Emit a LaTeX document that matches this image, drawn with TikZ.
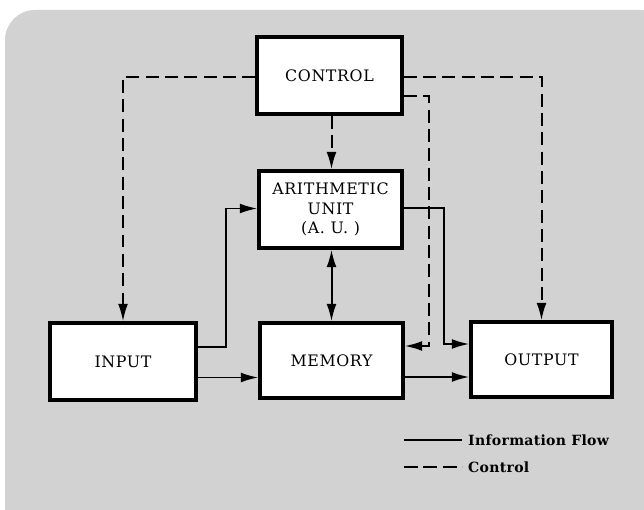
\documentclass[tikz,border=0pt]{standalone}
\usepackage{fontspec}
\newfontfamily\boxfont[LetterSpace=4]{DejaVu Serif}
\newfontfamily\keyfont[LetterSpace=2]{DejaVu Serif}
\usetikzlibrary{arrows.meta,calc}
\definecolor{paper}{RGB}{210,210,210}
\begin{document}
\begin{tikzpicture}[x=0.03cm,y=-0.03cm,
  >={Latex[length=15pt,width=8.5pt]},
  unit/.style={draw=black, fill=white, line width=2.8pt, inner sep=0pt,
    font=\boxfont\fontsize{13.5}{16.6}\selectfont, align=center},
  flow/.style={line width=1.7pt, ->},
  ctl/.style={flow, dash pattern=on 11pt off 5.5pt},
  key/.style={font=\keyfont\bfseries\fontsize{12}{14}\selectfont, anchor=west, inner sep=0pt},
  keyline/.style={line width=1.3pt}
]
\useasboundingbox (0,0) rectangle (644,510);
\clip (0,0) rectangle (644,510);
% paper backdrop
\fill[paper, rounded corners=0.9cm] (5,10) rectangle (670,540);

% units
\node[unit, minimum width=4.35cm, minimum height=2.31cm] (control) at (329.5,75.5) {CONTROL};
\node[unit, minimum width=4.29cm, minimum height=2.31cm] (au) at (330.5,209.5) {ARITHMETIC\\UNIT\\(A. U. )};
\node[unit, minimum width=4.38cm, minimum height=2.31cm] (input) at (123,361.5) {INPUT};
\node[unit, minimum width=4.29cm, minimum height=2.25cm] (memory) at (331.5,360.5) {MEMORY};
\node[unit, minimum width=4.23cm, minimum height=2.25cm] (output) at (541.5,359.5) {OUTPUT};

% bend and port points of the connectors
\coordinate (cw) at ($(control.west)+(0,1.5)$);
\coordinate (ce) at ($(control.east)+(0,1.5)$);
\coordinate (ce2) at ($(control.east)+(0,20.5)$);
\coordinate (mem-ctl) at ($(memory.east)+(0,-14.5)$);
\coordinate (mem-ctl-bend) at ($(memory.east)+(24,-14.5)$);
\coordinate (cs) at ($(control.south)+(2,0)$);
\coordinate (in-au) at ($(input.east)+(0,-14.5)$);
\coordinate (au-in) at ($(au.west)+(0,-1)$);
\coordinate (au-in-bend) at ($(au.west)+(-31,-1)$);
\coordinate (in-mem) at ($(input.east)+(0,16)$);
\coordinate (au-out) at ($(au.east)+(0,-1.5)$);
\coordinate (out-au) at ($(output.west)+(0,-15.5)$);
\coordinate (out-au-bend) at ($(output.west)+(-25,-15.5)$);
\coordinate (mem-out) at ($(memory.east)+(0,16.5)$);

% control lines
\draw[ctl] (cw) -| (input.north);
\draw[ctl] (ce) -| (output.north);
\draw[ctl] (ce2) -| (mem-ctl-bend) -- (mem-ctl);
\draw[ctl] (cs) -- (cs |- au.north);

% information flow
\draw[flow] (in-au) -| (au-in-bend) -- (au-in);
\draw[flow] (in-mem) -- (in-mem -| memory.west);
\draw[flow, <->] (memory.north |- au.south) -- (memory.north);
\draw[flow] (au-out) -| (out-au-bend) -- (out-au);
\draw[flow] (mem-out) -- (mem-out -| output.west);

% key
\node[key] (kflow) at (468,440) {Information Flow};
\node[key] (kctl) at (468,467) {Control};
\coordinate (kflowstart) at (404,440);
\coordinate (kctlstart) at (404,467);
\draw[keyline] (kflowstart) -- ($(kflow.west)+(-6,0)$);
\draw[keyline, dash pattern=on 12pt off 4.5pt] (kctlstart) -- ($(kctl.west)+(-6,0)$);
\end{tikzpicture}
\end{document}
